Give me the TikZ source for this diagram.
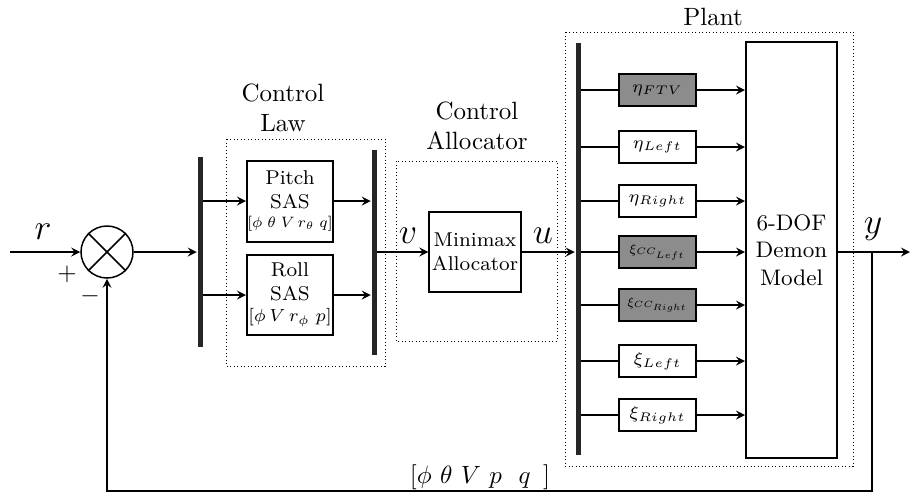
\documentclass[tikz,border=0pt]{standalone}
\usepackage{amsmath}
\begin{document}
\begin{tikzpicture}[x=0.4pt, y=-0.4pt, >=stealth, line width=0.6pt,
		blk/.style={draw, line width=0.8pt, fill=white, align=center, inner sep=1pt},
		act/.style={draw, line width=0.8pt, minimum width=30.8pt, minimum height=12.8pt, inner sep=0pt, font=\scriptsize},
		bar/.style={fill=black!85, minimum width=2pt, inner sep=0pt},
		grp/.style={draw, densely dotted, line width=0.4pt},
		lbl/.style={font=\Large}]
	\useasboundingbox (0,0) rectangle (912,496);

	% summing junction
	\coordinate (in) at (10,252);
	\node[draw, circle, minimum size=20.8pt, inner sep=0pt] (sum) at (107,252) {};
	\draw (sum.north west) -- (sum.south east) (sum.north east) -- (sum.south west);
	\draw[->] (in) -- (sum);
	\node[lbl] (rlbl) at (43,232) {$r$};
	\node (plus) at (67,274) {$+$};
	\node (minus) at (90,296) {$-$};

	% control law
	\draw[grp] (226,139) rectangle (385,366);
	\node[align=center] (lawlbl) at (283,108) {Control\\Law};
	\node[bar, minimum height=76pt] (bar1) at (200,252) {};
	\node[bar, minimum height=82pt] (bar2) at (374,252.5) {};
	\node[blk, minimum width=34.4pt, minimum height=32.4pt, font=\footnotesize] (pitch) at (290,201) {Pitch\\SAS\\[-2pt]\makebox[0pt]{\scalebox{0.86}{\scriptsize$[\phi\;\theta\;V\,r_\theta\;q]$}}};
	\node[blk, minimum width=34.4pt, minimum height=32pt, font=\footnotesize] (roll) at (290,295) {Roll\\SAS\\[-1pt]\makebox[0pt]{\scriptsize$[\phi\,V\,r_\phi\;p]$}};
	\draw[->] (sum) -- (sum -| bar1.west);
	\foreach \nm in {pitch, roll} {
		\draw[->] (bar1.east |- \nm) -- (\nm);
		\draw[->] (\nm) -- (\nm -| bar2.west);
	}

	% control allocator
	\draw[grp] (396,161) rectangle (557,341);
	\node[align=center] (calbl) at (477,126) {Control\\Allocator};
	\node[blk, minimum width=36pt, minimum height=32pt, font=\footnotesize] (mm) at (475,252) {Minimax\\Allocator};
	\node[bar, minimum height=164.8pt] (bar3) at (578,249) {};
	\draw[->] (bar2.east |- mm) -- (mm);
	\draw[->] (mm) -- (mm -| bar3.west);
	\node[lbl] (vlbl) at (408,236) {$v$};
	\node[lbl] (ulbl) at (543,236) {$u$};

	% plant
	\draw[grp] (565,32) rectangle (853,466);
	\node (plantlbl) at (713,17) {Plant};
	\node[blk, minimum width=36.4pt, minimum height=166.4pt, font=\small] (dof) at (791.5,250) {6-DOF\\Demon\\Model};
	\foreach \y / \nm / \txt / \col / \sc in {90/ftv/\eta_{FTV}/black!45/1, 147/etal/\eta_{Left}/white/1, 201/etar/\eta_{Right}/white/1,
			252/xiccl/\xi_{CC_{Left}}/black!45/0.75, 305/xiccr/\xi_{CC_{Right}}/black!45/0.72, 361/xil/\xi_{Left}/white/1, 415/xir/\xi_{Right}/white/1} {
		\node[act, fill=\col] (\nm) at (657.5,\y) {\makebox[0pt]{\scalebox{\sc}{$\txt$}}};
		\draw (bar3.east |- \nm) -- (\nm);
		\draw[->] (\nm) -- (\nm -| dof.west);
	}

	% output and feedback
	\coordinate (out) at (910,252);
	\coordinate (tap) at (872,252);
	\coordinate (fbr) at (872,491);
	\draw[->] (dof.east |- out) -- (out);
	\node[lbl] (ylbl) at (873,229) {$y$};
	\draw[->] (tap) -- (fbr) -| (sum.south);
	\node (fblbl) at (480,477) {$[\phi\ \theta\ V\ p\ \ q\ \,]$};
\end{tikzpicture}
\end{document}
